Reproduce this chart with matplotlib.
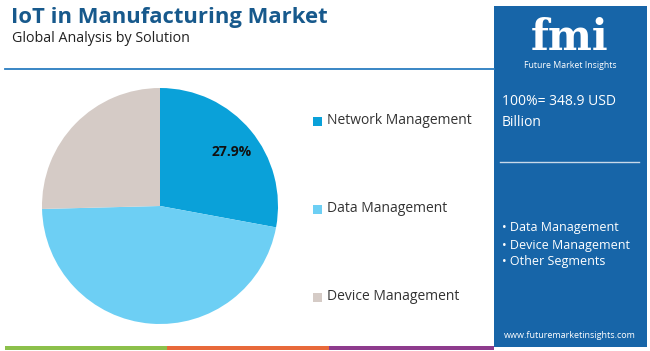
import matplotlib
matplotlib.use('Agg')
import matplotlib.pyplot as plt
from matplotlib.patches import Rectangle

# data
segments = ['Network Management', 'Data Management', 'Device Management']
shares = [27.9, 46.7, 25.4]
colors = ['#0aa1d9', '#6dcff4', '#d5cbc6']
total_label = '100%= 348.9 USD\nBillion'
panel_items = ['Data Management', 'Device Management', 'Other Segments']

plt.rcParams['font.family'] = ['Open Sans', 'DejaVu Sans']

W, H = 650, 351
fig = plt.figure(figsize=(W / 100, H / 100), dpi=100)
fig.patch.set_facecolor('white')

# background axes in pixel coords
bg = fig.add_axes([0, 0, 1, 1])
bg.set_xlim(0, W)
bg.set_ylim(H, 0)
bg.axis('off')

bg.text(11, 17, 'IoT in Manufacturing Market', fontsize=15.8, fontweight='bold',
        color='#17598c', va='center', ha='left')
bg.text(12, 39, 'Global Analysis by Solution', fontsize=10.3, color='#222222',
        va='center', ha='left')
bg.plot([5, 494], [69, 69], color='#2a7dc0', lw=1.3)

# bottom colour strip
for x0, x1, c in [(5, 167, '#8cc04b'), (167, 329, '#e8693a'), (329, 494, '#8e3b8d')]:
    bg.add_patch(Rectangle((x0, 346), x1 - x0, 4, color=c, lw=0))

# right panel
bg.add_patch(Rectangle((494, 6), 153, 341, color='#1765a8', lw=0))
bg.text(570, 50, 'fmi', fontsize=30, fontweight='bold', family='DejaVu Serif',
        color='white', ha='center', va='baseline')
bg.text(570, 65, 'Future Market Insights', fontsize=6.3, color='white',
        ha='center', va='center')
bg.text(502, 112, total_label, fontsize=10, color='white', ha='left',
        va='center', linespacing=1.6)
bg.plot([500, 639], [162, 162], color='#c9d9ea', lw=1)
for i, item in enumerate(panel_items):
    bg.text(502, 228 + i * 17, '\u2022 ' + item, fontsize=9, color='white',
            ha='left', va='center')
bg.text(570, 335, 'www.futuremarketinsights.com', fontsize=6.5, color='white',
        ha='center', va='center')

# legend
for i, (name, c) in enumerate(zip(segments, colors)):
    y = 121 + i * 88
    bg.add_patch(Rectangle((313, y - 4.5), 9, 9, color=c, lw=0))
    bg.text(327, y, name, fontsize=10, color='#333333', ha='left', va='center')

# pie
cx, cy, r = 160, 206, 118
ax = fig.add_axes([(cx - r) / W, (H - cy - r) / H, 2 * r / W, 2 * r / H])
ax.pie(shares, colors=colors, startangle=90, counterclock=False,
       wedgeprops=dict(linewidth=0))
ax.set_xlim(-1, 1)
ax.set_ylim(-1, 1)
ax.axis('off')
ax.text(0.61, 0.46, f'{shares[0]}%', fontsize=10, fontweight='bold',
        color='#111111', ha='center', va='center')

fig.savefig('out.png', dpi=100)
